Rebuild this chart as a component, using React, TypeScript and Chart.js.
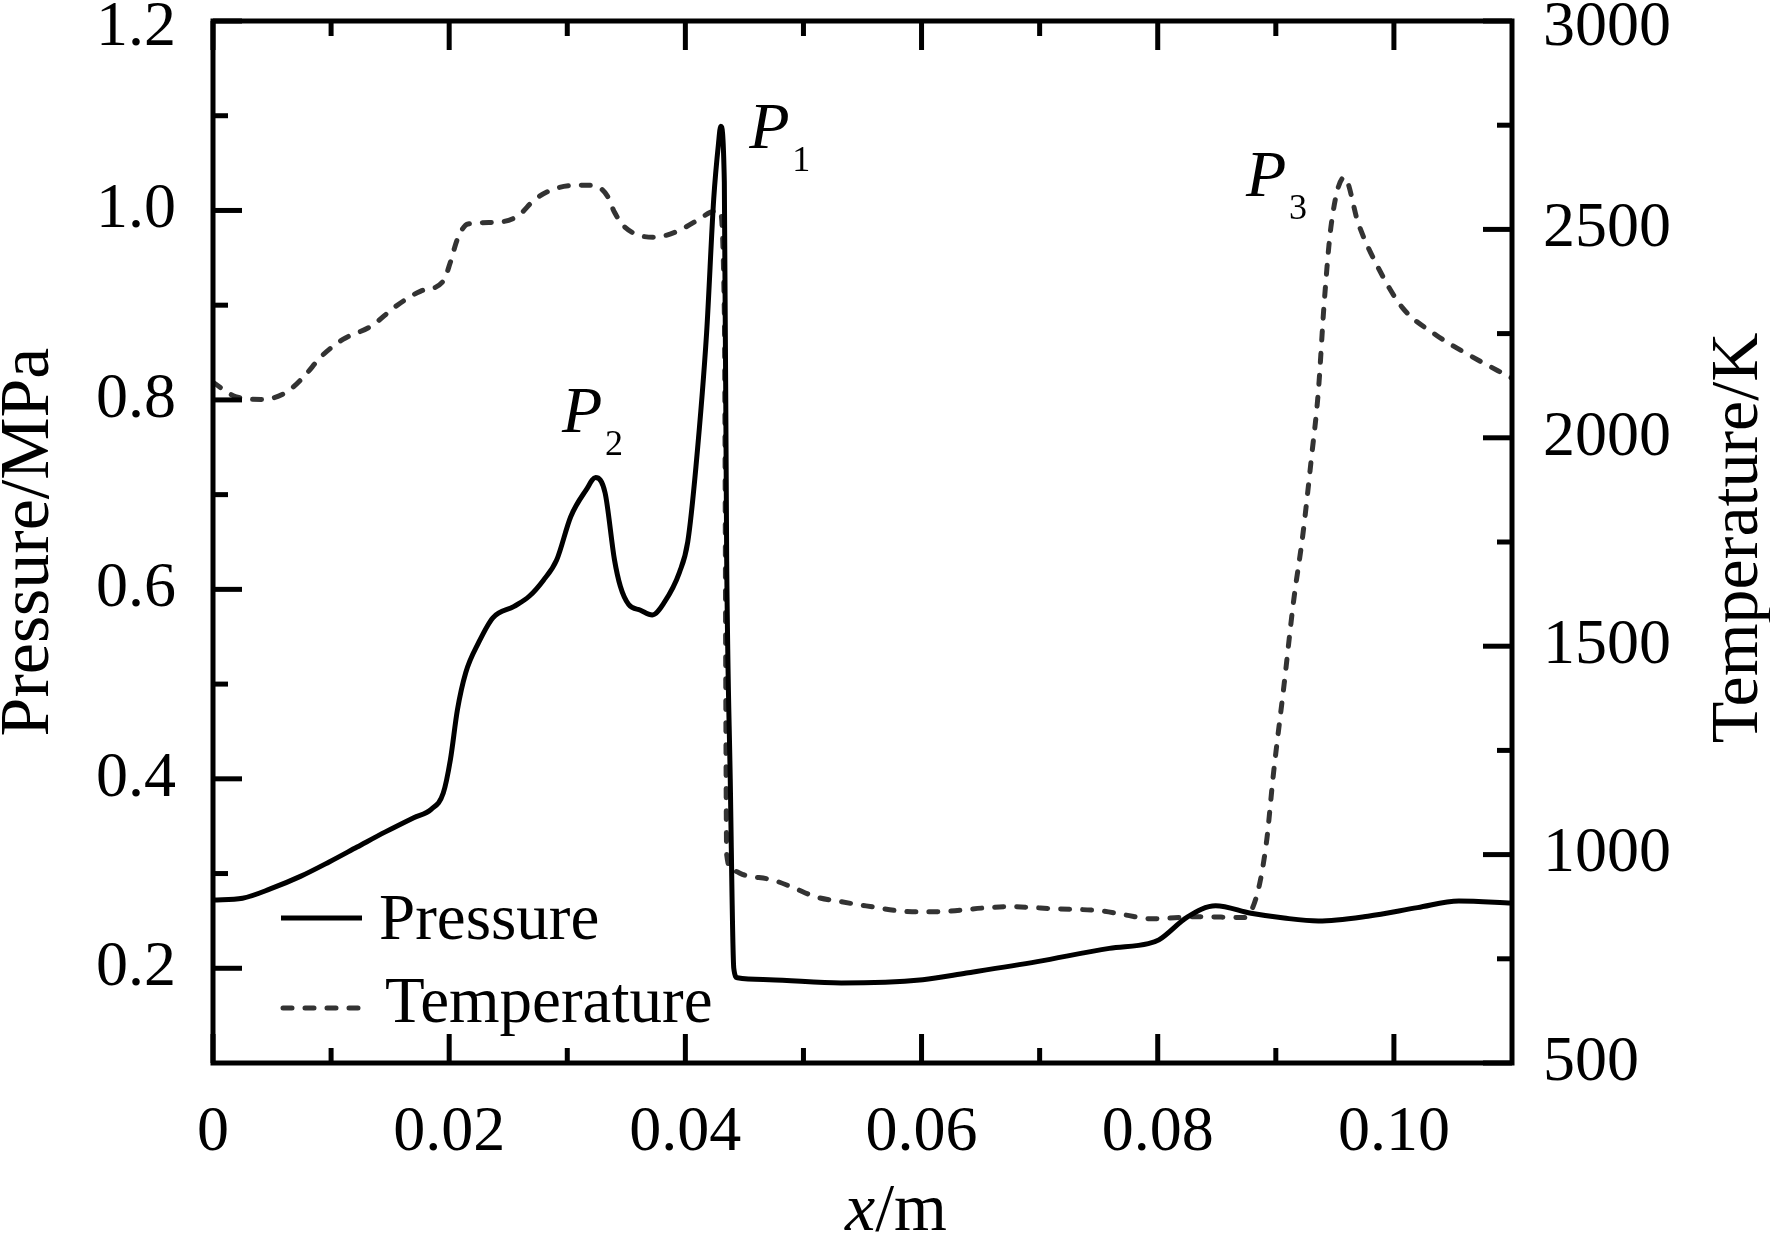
import { useEffect, useRef } from "react";
import { Chart, registerables } from "chart.js";

Chart.register(...registerables);

// pressure, solid line (MPa)
const PRESSURE_X = [
  0, 0.0025, 0.0049, 0.0074, 0.0098, 0.0122, 0.0146, 0.017, 0.0185, 0.0195,
  0.0201, 0.0207, 0.0214, 0.0225, 0.0237, 0.0255, 0.0268, 0.028, 0.0291, 0.0303,
  0.0316, 0.0324, 0.0332, 0.034, 0.0345, 0.0352, 0.0362, 0.0372, 0.0382, 0.0395,
  0.0402, 0.0409, 0.0418, 0.0424, 0.0428, 0.043, 0.0433, 0.0435, 0.0438, 0.0441,
  0.0444, 0.0471, 0.0532, 0.0601, 0.0638, 0.0698, 0.0759, 0.0792, 0.0801, 0.0825,
  0.0849, 0.0879, 0.0907, 0.0936, 0.0978, 0.102, 0.1055, 0.11,
];
const PRESSURE_MPA = [
  0.272, 0.274, 0.284, 0.297, 0.312, 0.328, 0.344, 0.359, 0.368, 0.385,
  0.42, 0.473, 0.512, 0.544, 0.57, 0.582, 0.593, 0.61, 0.631, 0.677,
  0.705, 0.718, 0.702, 0.631, 0.603, 0.584, 0.578, 0.573, 0.586, 0.618,
  0.65, 0.73, 0.871, 1.012, 1.07, 1.089, 1.03, 0.63, 0.4, 0.2,
  0.19, 0.188, 0.1845, 0.188, 0.195, 0.207, 0.221, 0.226, 0.23, 0.254,
  0.266, 0.258, 0.253, 0.25, 0.255, 0.264, 0.271, 0.269,
];

// temperature, dashed line (K)
const TEMP_X = [
  0, 0.0019, 0.0041, 0.0062, 0.0077, 0.0092, 0.011, 0.0134, 0.0155, 0.0176,
  0.0195, 0.0201, 0.0207, 0.0216, 0.024, 0.0258, 0.0273, 0.0291, 0.0314, 0.0324,
  0.0334, 0.034, 0.0349, 0.0373, 0.0391, 0.0412, 0.0421, 0.0429, 0.0433, 0.0435,
  0.044, 0.045, 0.0474, 0.0492, 0.051, 0.0532, 0.0553, 0.0592, 0.0613, 0.0653,
  0.0674, 0.0713, 0.0752, 0.0773, 0.0794, 0.0834, 0.0873, 0.0884, 0.0892, 0.0898,
  0.0907, 0.0915, 0.0923, 0.093, 0.0936, 0.0941, 0.0947, 0.0958, 0.097, 0.0986,
  0.1007, 0.1035, 0.1064, 0.11,
];
const TEMP_K = [
  2133, 2099, 2092, 2109, 2147, 2196, 2236, 2268, 2316, 2352,
  2376, 2421, 2477, 2513, 2517, 2532, 2573, 2599, 2606, 2604,
  2580, 2541, 2505, 2481, 2493, 2525, 2541, 2545, 2300, 1000,
  962, 951, 939, 920, 899, 887, 877, 863, 863, 872,
  875, 870, 865, 855, 846, 851, 849, 903, 1028, 1194,
  1408, 1607, 1770, 1948, 2111, 2325, 2513, 2625, 2513, 2412,
  2313, 2248, 2198, 2143,
];

const X_TICKS = [0, 0.02, 0.04, 0.06, 0.08, 0.1];
const X_MINOR = [0.01, 0.03, 0.05, 0.07, 0.09];
const P_TICKS = [0.2, 0.4, 0.6, 0.8, 1.0, 1.2];
const P_MINOR = [0.3, 0.5, 0.7, 0.9, 1.1];
const T_TICKS = [500, 1000, 1500, 2000, 2500, 3000];
const T_MINOR = [750, 1250, 1750, 2250, 2750];

const SERIES_NAMES = ["Pressure", "Temperature"];
const PEAKS = [
  { sub: "1", x: 0.0454, p: 1.066 },
  { sub: "2", x: 0.02955, p: 0.766 },
  { sub: "3", x: 0.08747, p: 1.015 },
];

const FONT = '"Liberation Serif", "Times New Roman", serif';
const DASH = [9, 13];

const framePlugin = {
  id: "frame",
  afterDraw(chart: any) {
    const { ctx, chartArea: a, scales } = chart;
    const { x, y, y1 } = scales;
    ctx.save();
    ctx.strokeStyle = "#000";
    ctx.fillStyle = "#000";
    ctx.lineWidth = 5;
    ctx.strokeRect(a.left, a.top, a.right - a.left, a.bottom - a.top);

    const MAJOR = 29;
    const MINOR = 15;
    const line = (x0: number, y0: number, x1: number, y1_: number) => {
      ctx.beginPath();
      ctx.moveTo(x0, y0);
      ctx.lineTo(x1, y1_);
      ctx.stroke();
    };
    const xTick = (v: number, len: number) => {
      const px = x.getPixelForValue(v);
      line(px, a.bottom, px, a.bottom - len);
      line(px, a.top, px, a.top + len);
    };
    X_TICKS.forEach((v) => xTick(v, MAJOR));
    X_MINOR.forEach((v) => xTick(v, MINOR));
    P_TICKS.forEach((v) => {
      const py = y.getPixelForValue(v);
      line(a.left, py, a.left + MAJOR, py);
    });
    P_MINOR.forEach((v) => {
      const py = y.getPixelForValue(v);
      line(a.left, py, a.left + MINOR, py);
    });
    T_TICKS.forEach((v) => {
      const py = y1.getPixelForValue(v);
      line(a.right, py, a.right - MAJOR, py);
    });
    T_MINOR.forEach((v) => {
      const py = y1.getPixelForValue(v);
      line(a.right, py, a.right - MINOR, py);
    });

    // legend
    const lx = a.left + 70;
    ctx.lineWidth = 5;
    ctx.strokeStyle = "#000";
    line(lx - 2, a.bottom - 145, lx + 79, a.bottom - 145);
    ctx.strokeStyle = "#333";
    ctx.lineCap = "round";
    ctx.setLineDash(DASH);
    line(lx, a.bottom - 55, lx + 79, a.bottom - 55);
    ctx.setLineDash([]);
    ctx.lineCap = "butt";
    ctx.font = `65px ${FONT}`;
    ctx.textBaseline = "alphabetic";
    ctx.textAlign = "left";
    ctx.fillText(SERIES_NAMES[0], a.left + 166, a.bottom - 124);
    ctx.fillText(SERIES_NAMES[1], a.left + 172, a.bottom - 41);

    // peak labels
    PEAKS.forEach((pk) => {
      const px = x.getPixelForValue(pk.x);
      const py = y.getPixelForValue(pk.p);
      ctx.font = `italic 66px ${FONT}`;
      ctx.fillText("P", px, py);
      ctx.font = `36px ${FONT}`;
      ctx.fillText(pk.sub, px + 43, py + 23);
    });

    // axis titles
    ctx.textAlign = "center";
    const midY = (a.top + a.bottom) / 2;
    ctx.save();
    ctx.font = `70px ${FONT}`;
    ctx.translate(48, midY);
    ctx.rotate(-Math.PI / 2);
    ctx.fillText("Pressure/MPa", 0, 0);
    ctx.restore();
    ctx.save();
    ctx.font = `68px ${FONT}`;
    ctx.translate(chart.width - 13, midY - 4);
    ctx.rotate(-Math.PI / 2);
    ctx.fillText("Temperature/K", 0, 0);
    ctx.restore();

    ctx.textAlign = "left";
    const tx = 845;
    const ty = chart.height - 3;
    ctx.font = `italic 68px ${FONT}`;
    ctx.fillText("x", tx, ty);
    const w = ctx.measureText("x").width;
    ctx.font = `68px ${FONT}`;
    ctx.fillText("/m", tx + w, ty);
    ctx.restore();
  },
};

// keep the plot box where the reference has it
const noPad = (s: any) => {
  s.paddingTop = 0;
  s.paddingBottom = 0;
  s.paddingLeft = 0;
  s.paddingRight = 0;
};

// the top label of each y axis sits a little below its tick in the reference
const topShifted = (top: number) => (c: any) =>
  c.tick && c.tick.value === top
    ? { family: FONT, size: 64, lineHeight: "14px" }
    : { family: FONT, size: 64 };

export default function App() {
  const canvasRef = useRef<HTMLCanvasElement>(null);

  useEffect(() => {
    document.body.style.margin = "0";
    const canvas = canvasRef.current;
    if (!canvas) return;

    const tickFont = { family: FONT, size: 64 };
    const chart = new Chart(canvas, {
      type: "line",
      data: {
        datasets: [
          {
            label: SERIES_NAMES[0],
            data: PRESSURE_X.map((v, i) => ({ x: v, y: PRESSURE_MPA[i] })),
            yAxisID: "y",
            borderColor: "#000",
            borderWidth: 5,
            pointRadius: 0,
            tension: 0.4,
            cubicInterpolationMode: "monotone",
          },
          {
            label: SERIES_NAMES[1],
            data: TEMP_X.map((v, i) => ({ x: v, y: TEMP_K[i] })),
            yAxisID: "y1",
            borderColor: "#333",
            borderWidth: 5,
            borderDash: DASH,
            borderCapStyle: "round",
            pointRadius: 0,
            tension: 0.4,
            cubicInterpolationMode: "monotone",
          },
        ],
      },
      options: {
        animation: false,
        responsive: true,
        maintainAspectRatio: false,
        layout: { autoPadding: false, padding: { top: 21, left: 0, right: 0, bottom: 0 } },
        plugins: {
          legend: { display: false },
          title: { display: false },
          tooltip: { enabled: false },
        },
        events: [],
        scales: {
          x: {
            type: "linear",
            position: "bottom",
            min: 0,
            max: 0.11,
            grid: { display: false, drawTicks: false },
            border: { display: false },
            afterBuildTicks: (s: any) => {
              s.ticks = X_TICKS.map((value) => ({ value }));
            },
            afterFit: (s: any) => {
              s.height = 170;
              noPad(s);
            },
            ticks: {
              padding: 32,
              color: "#000",
              font: tickFont,
              maxRotation: 0,
              autoSkip: false,
              callback: (v: any) => (Number(v) === 0 ? "0" : Number(v).toFixed(2)),
            },
          },
          y: {
            type: "linear",
            position: "left",
            min: 0.1,
            max: 1.2,
            grid: { display: false, drawTicks: false },
            border: { display: false },
            afterBuildTicks: (s: any) => {
              s.ticks = P_TICKS.map((value) => ({ value }));
            },
            afterFit: (s: any) => {
              s.width = 213;
              noPad(s);
            },
            ticks: {
              padding: 37,
              color: "#000",
              font: topShifted(1.2),
              autoSkip: false,
              callback: (v: any) => {
                const s = Number(v).toFixed(1);
                return Number(v) === 1.2 ? ["", s] : s;
              },
            },
          },
          y1: {
            type: "linear",
            position: "right",
            min: 500,
            max: 3000,
            grid: { display: false, drawTicks: false },
            border: { display: false },
            afterBuildTicks: (s: any) => {
              s.ticks = T_TICKS.map((value) => ({ value }));
            },
            afterFit: (s: any) => {
              s.width = 258;
              noPad(s);
            },
            ticks: {
              padding: 31,
              color: "#000",
              font: topShifted(3000),
              autoSkip: false,
              callback: (v: any) => (Number(v) === 3000 ? ["", String(v)] : String(v)),
            },
          },
        },
      },
      plugins: [framePlugin],
    } as any);

    return () => {
      chart.destroy();
    };
  }, []);

  return (
    <div style={{ width: 1770, height: 1233, position: "relative", background: "#fff" }}>
      <canvas ref={canvasRef}></canvas>
    </div>
  );
}
